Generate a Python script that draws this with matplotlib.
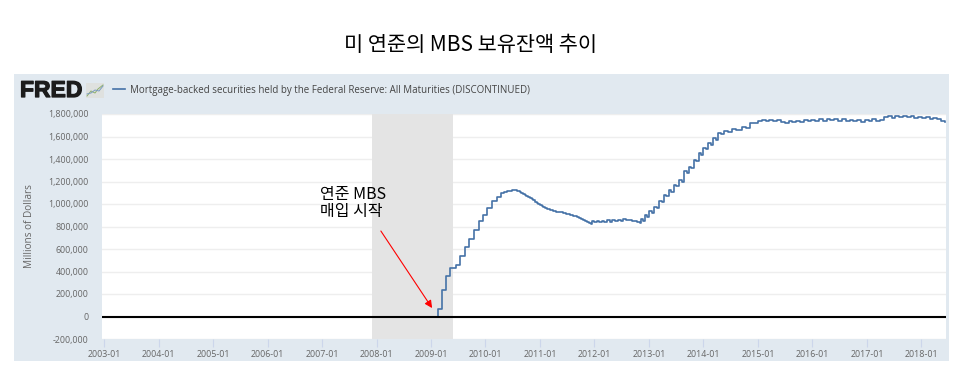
import matplotlib
matplotlib.use("Agg")
import matplotlib.pyplot as plt
import matplotlib.patheffects as pe
from matplotlib.patches import Rectangle

plt.rcParams['font.family'] = ['Open Sans', 'Noto Sans CJK KR', 'DejaVu Sans']

title = "미 연준의 MBS 보유잔액 추이"
series_name = "Mortgage-backed securities held by the Federal Reserve: All Maturities (DISCONTINUED)"
note = "연준 MBS\n매입 시작"
y_label = "Millions of Dollars"

x_ticks = list(range(2003, 2019))
y_ticks = list(range(-200000, 1800001, 200000))

recession = [2007.92, 2009.41]
arrow_from = [2008.08, 760000]
arrow_to = [2009.02, 75000]

# decimal year
years = [2003.00, 2009.05, 2009.12, 2009.20, 2009.27, 2009.35, 2009.46, 2009.53, 2009.62, 2009.70,
         2009.79, 2009.88, 2009.96, 2010.03, 2010.12, 2010.21, 2010.28, 2010.34, 2010.39, 2010.42,
         2010.45, 2010.48, 2010.51, 2010.54, 2010.57, 2010.60, 2010.63, 2010.66, 2010.69, 2010.72,
         2010.75, 2010.78, 2010.81, 2010.85, 2010.88, 2010.91, 2010.94, 2010.97, 2011.00, 2011.03,
         2011.06, 2011.09, 2011.12, 2011.15, 2011.18, 2011.24, 2011.30, 2011.36, 2011.42, 2011.48,
         2011.55, 2011.61, 2011.67, 2011.71, 2011.75, 2011.79, 2011.83, 2011.86, 2011.90, 2011.93,
         2011.95, 2011.99, 2012.04, 2012.08, 2012.13, 2012.18, 2012.23, 2012.28, 2012.33, 2012.38,
         2012.43, 2012.48, 2012.53, 2012.58, 2012.63, 2012.68, 2012.73, 2012.78, 2012.83, 2012.86,
         2012.89, 2012.93, 2012.97, 2013.00, 2013.05, 2013.09, 2013.14, 2013.18, 2013.23, 2013.27,
         2013.32, 2013.36, 2013.41, 2013.45, 2013.50, 2013.55, 2013.60, 2013.64, 2013.69, 2013.73,
         2013.78, 2013.82, 2013.87, 2013.91, 2013.96, 2014.00, 2014.05, 2014.09, 2014.14, 2014.18,
         2014.23, 2014.27, 2014.32, 2014.38, 2014.45, 2014.52, 2014.60, 2014.70, 2014.78, 2014.85,
         2014.92, 2015.00, 2015.07, 2015.14, 2015.21, 2015.28, 2015.35, 2015.42, 2015.49, 2015.56,
         2015.63, 2015.70, 2015.77, 2015.84, 2015.91, 2015.98, 2016.05, 2016.12, 2016.19, 2016.26,
         2016.33, 2016.40, 2016.47, 2016.54, 2016.61, 2016.68, 2016.75, 2016.82, 2016.89, 2016.96,
         2017.03, 2017.10, 2017.17, 2017.24, 2017.31, 2017.38, 2017.45, 2017.52, 2017.59, 2017.66,
         2017.73, 2017.80, 2017.87, 2017.94, 2018.01, 2018.08, 2018.15, 2018.22, 2018.29, 2018.36, 2018.44]
values = [0, 0, 66, 235, 360, 428, 458, 538, 620, 689,
          769, 846, 902, 967, 1027, 1065, 1095, 1105, 1115, 1118,
          1120, 1122, 1124, 1122, 1119, 1115, 1107, 1098, 1089, 1080,
          1071, 1063, 1054, 1044, 1032, 1020, 1008, 998, 991, 980,
          971, 965, 960, 953, 947, 939, 932, 925, 917, 910,
          902, 895, 887, 878, 870, 861, 852, 843, 832, 822,
          845, 838, 852, 840, 850, 838, 855, 842, 858, 848,
          862, 852, 866, 856, 858, 846, 852, 836, 832, 868,
          850, 902, 885, 935, 920, 976, 962, 1029, 1015, 1080,
          1068, 1124, 1110, 1169, 1158, 1213, 1200, 1293, 1278, 1332,
          1320, 1391, 1378, 1450, 1438, 1497, 1485, 1539, 1528, 1584,
          1572, 1628, 1618, 1649, 1640, 1667, 1660, 1687, 1680, 1723,
          1716, 1738, 1747, 1735, 1748, 1740, 1746, 1733, 1722, 1738,
          1726, 1742, 1732, 1745, 1736, 1750, 1738, 1752, 1742, 1754,
          1745, 1756, 1740, 1752, 1738, 1750, 1735, 1750, 1730, 1748,
          1735, 1752, 1736, 1748, 1770, 1778, 1768, 1780, 1770, 1782,
          1772, 1778, 1768, 1776, 1764, 1772, 1760, 1764, 1752, 1742, 1732]
values = [v * 1000 for v in values]

fig = plt.figure(figsize=(9.6, 3.72), dpi=100, facecolor='white')

# background layer in pixels for the FRED frame
bg = fig.add_axes([0, 0, 1, 1], zorder=0)
bg.set_xlim(0, 960)
bg.set_ylim(372, 0)
bg.axis('off')
bg.add_patch(Rectangle((14, 74), 935, 287, color='#e1e9f0', lw=0))
bg.text(470, 45, title, ha='center', va='center', fontsize=15, color='black',
        family=['Noto Sans CJK KR', 'DejaVu Sans'])

# FRED logo and its little icon
logo = bg.text(20, 90.5, "FRED", ha='left', va='center', fontsize=16.5, color='#1c1c1c',
               family='Liberation Sans', fontweight='bold')
logo.set_path_effects([pe.withStroke(linewidth=0.9, foreground='#1c1c1c')])
bg.add_patch(Rectangle((86, 83), 18, 15, color='#dfe1df', lw=0))
bg.plot([87, 91, 95, 98, 103], [96, 91, 93, 89, 85], color='#8fb06c', lw=0.7)
bg.plot([87, 91, 95, 99, 103], [94, 93, 90, 91, 86], color='#7b9cc0', lw=0.7)

ax = fig.add_axes([102 / 960, 1 - 339 / 372, 844 / 960, 225 / 372], zorder=1)
ax.set_xlim(2002.963, 2018.45)
ax.set_ylim(-200000, 1800000)

ax.axvspan(recession[0], recession[1], color='#e4e4e4', lw=0, zorder=1.5)
line, = ax.plot(years, values, color='#4572a7', lw=1.2, drawstyle='steps-post', zorder=3,
                label=series_name)
ax.axhline(0, color='black', lw=1.5, zorder=4)

ax.annotate("", xy=arrow_to, xytext=arrow_from, zorder=5,
            arrowprops=dict(arrowstyle='-|>', color='#ff0000', lw=0.8, mutation_scale=11,
                            shrinkA=0, shrinkB=0))
ax.text(0, 0, note, transform=bg.transData, position=(320, 203), ha='left', va='center',
        fontsize=11.5, color='black', linespacing=1.0, zorder=6,
        family=['Noto Sans CJK KR', 'DejaVu Sans'])

ax.set_xticks(x_ticks)
ax.set_xticklabels([f"{y}-01" for y in x_ticks])
ax.set_yticks(y_ticks)
ax.set_yticklabels([f"{v:,}" for v in y_ticks])
ax.grid(axis='y', color='#eeeeee', lw=1, zorder=1)
ax.set_axisbelow(True)
for s in ax.spines.values():
    s.set_visible(False)
ax.tick_params(axis='x', length=6, width=0.8, color='#ccd6eb', labelsize=6.4, labelcolor='#666666', pad=2)
ax.tick_params(axis='y', length=0, labelsize=6.4, labelcolor='#666666', pad=9.5)
ax.patch.set_facecolor('white')

bg.text(30, 226, y_label, rotation=90, ha='center', va='center', fontsize=7.2, color='#666666')

ax.legend(handles=[line], loc='center left', bbox_to_anchor=(113, 90), bbox_transform=bg.transData,
          frameon=False, fontsize=7.05, labelcolor='#444444', handlelength=1.2, handletextpad=0.55,
          borderpad=0, borderaxespad=0)

fig.savefig("out.png", dpi=100, facecolor='white')
plt.close(fig)
